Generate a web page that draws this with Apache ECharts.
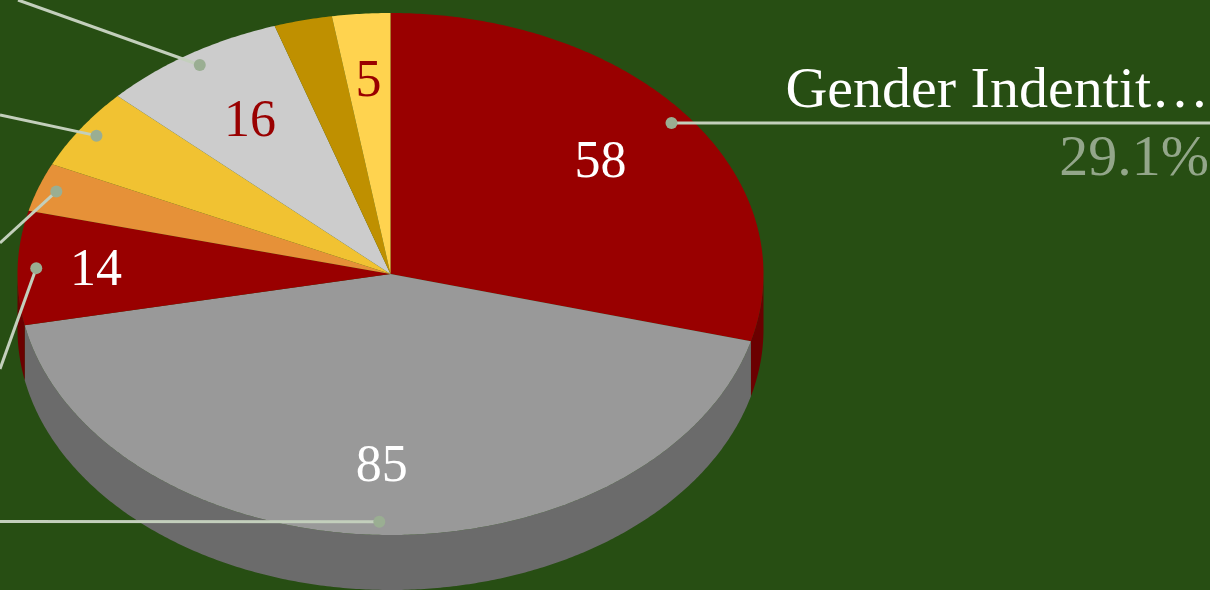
<!DOCTYPE html>
<html>
<head>
<meta charset="utf-8">
<style>html,body{margin:0;padding:0;background:#274e13}#c{width:1210px;height:590px}</style>
<script src="https://cdn.jsdelivr.net/npm/echarts@6/dist/echarts.min.js"></script>
</head>
<body>
<div id="c"></div>
<script>
// Data (clockwise from 12 o'clock)
var sliceValues = [58, 85, 14, 6, 10, 16, 5, 5];
var outsideNames = ['Gender Indentit…', '', '', '', '', '', '', ''];

// Styles and layout, kept apart from the data
var topColors = ['#990000', '#999999', '#990000', '#e69138', '#f1c232', '#cccccc', '#bf9000', '#ffd34f'];
var wallColors = ['#6b0000', '#6b6b6b', '#6b0000', '#a16627', '#a98823', '#8f8f8f', '#866500', '#b29847'];
var labelColors = ['#ffffff', '#ffffff', '#ffffff', null, null, '#990000', null, '#990000'];
var labelRadii = [0.71, 0.735, 0.79, 0, 0, 0.70, 0, 0.745];
var leaderEnds = [[1210, 123], [0, 521.5], [0, 369], [0, 243], [0, 115], [18, 0], null, null];
var showLeader = [true, true, true, true, true, true, false, false];

var cx = 390.5, cy = 274, rx = 373, ry = 261, depth = 55;
var labelDrop = 2;
var DEG = Math.PI / 180;
var total = sliceValues.reduce(function (a, b) { return a + b; }, 0);

function pt(angle, k, dy) {
  return [cx + rx * k * Math.sin(angle * DEG), cy - ry * k * Math.cos(angle * DEG) + (dy || 0)];
}
function range(i) {
  var s = 0;
  for (var j = 0; j < i; j++) s += sliceValues[j];
  return [s / total * 360, (s + sliceValues[i]) / total * 360];
}
function arc(a0, a1, dy) {
  var out = [], n = Math.max(2, Math.ceil((a1 - a0) * 2));
  for (var i = 0; i <= n; i++) out.push(pt(a0 + (a1 - a0) * i / n, 1, dy));
  return out;
}

function renderWall(params, api) {
  var i = api.value(0), r = range(i);
  var a0 = Math.max(r[0], 90), a1 = Math.min(r[1], 270);
  if (a1 <= a0) return { type: 'group', children: [] };
  var pts = arc(a0, a1, 0).concat(arc(a0, a1, depth).reverse());
  return { type: 'polygon', shape: { points: pts }, style: { fill: wallColors[i] } };
}
function renderTop(params, api) {
  var i = api.value(0), r = range(i);
  var pts = [[cx, cy]].concat(arc(r[0], r[1], 0));
  return { type: 'polygon', shape: { points: pts }, style: { fill: topColors[i] } };
}
function renderOver(params, api) {
  var i = api.value(0), r = range(i), mid = (r[0] + r[1]) / 2;
  var kids = [];
  if (showLeader[i]) {
    var d = pt(mid, 0.95);
    kids.push({ type: 'line', shape: { x1: d[0], y1: d[1], x2: leaderEnds[i][0], y2: leaderEnds[i][1] },
      style: { stroke: '#c3cfbc', lineWidth: 3 } });
    kids.push({ type: 'circle', shape: { cx: d[0], cy: d[1], r: 6 }, style: { fill: '#9aae92' } });
  }
  if (labelColors[i]) {
    var p = pt(mid, labelRadii[i]);
    kids.push({ type: 'text', style: { text: String(api.value(1)), x: p[0], y: p[1] + labelDrop, fill: labelColors[i],
      align: 'center', verticalAlign: 'middle', font: '52px "Liberation Serif"' } });
  }
  if (outsideNames[i]) {
    kids.push({ type: 'text', style: { text: outsideNames[i], x: 1209, y: 92, fill: '#ffffff',
      align: 'right', verticalAlign: 'middle', font: '58px "Liberation Serif"' } });
    kids.push({ type: 'text', style: { text: (api.value(1) / total * 100).toFixed(1) + '%', x: 1209, y: 160, fill: '#93a68a',
      align: 'right', verticalAlign: 'middle', font: '58px "Liberation Serif"' } });
  }
  return { type: 'group', children: kids };
}

var rows = sliceValues.map(function (v, i) { return [i, v]; });
var chart = echarts.init(document.getElementById('c'), null, { renderer: 'canvas' });
chart.setOption({
  animation: false,
  backgroundColor: '#274e13',
  series: [
    { type: 'custom', coordinateSystem: 'none', silent: true, z: 1, data: rows, renderItem: renderWall },
    { type: 'custom', coordinateSystem: 'none', silent: true, z: 2, data: rows, renderItem: renderTop },
    { type: 'custom', coordinateSystem: 'none', silent: true, z: 3, data: rows, renderItem: renderOver }
  ]
});
</script>
</body>
</html>
